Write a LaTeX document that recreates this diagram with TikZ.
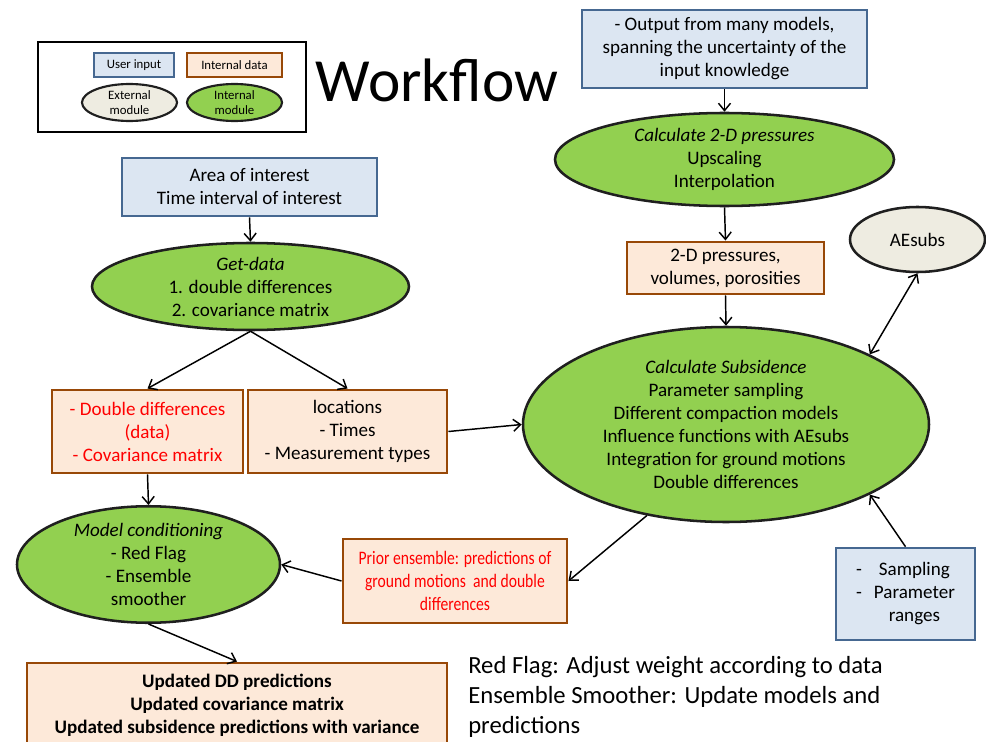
\documentclass[tikz,border=0pt]{standalone}
\usepackage{fontspec}
\setmainfont{Carlito}
\newfontfamily\condfont[FakeStretch=0.82]{Carlito}
\usetikzlibrary{shapes.geometric,arrows.meta}
\definecolor{ufill}{RGB}{220,230,242}
\definecolor{ubord}{RGB}{70,104,145}
\definecolor{dfill}{RGB}{253,233,217}
\definecolor{dbord}{RGB}{152,72,7}
\definecolor{igreen}{RGB}{146,208,80}
\definecolor{efill}{RGB}{238,236,225}
\definecolor{redtxt}{RGB}{255,0,0}
\def\pp{0.75pt}
\tikzset{
  main/.style={font=\fontsize{14.3}{17.25}\selectfont, align=center, inner sep=0pt},
  ubox/.style={main, rectangle, draw=ubord, fill=ufill, line width=2pt},
  dbox/.style={main, rectangle, draw=dbord, fill=dfill, line width=2.2pt},
  imod/.style={main, ellipse, draw=black!88, fill=igreen, line width=1.9pt},
  emod/.style={main, ellipse, draw=black!88, fill=efill, line width=1.9pt},
  small/.style={font=\fontsize{9.6}{11.25}\selectfont},
  arr/.style={-{Straight Barb[length=5.5pt,width=9pt]}, line width=1.1pt},
  darr/.style={{Straight Barb[length=5.5pt,width=9pt]}-{Straight Barb[length=5.5pt,width=9pt]}, line width=1.1pt},
  redt/.style={text=redtxt}
}
\begin{document}
\begin{tikzpicture}[x=0.75pt,y=-0.75pt]
\useasboundingbox (0,0) rectangle (986,742);

% legend
\node[draw=black, line width=2.2pt, minimum width=268*\pp, minimum height=90*\pp, inner sep=0pt] (legend) at (172,87) {};
\node[ubox, small, line width=1.6pt, minimum width=80*\pp, minimum height=24*\pp] (lu) at (134,65) {User input};
\node[dbox, small, line width=1.6pt, minimum width=95*\pp, minimum height=24*\pp] (ld) at (234.5,65) {Internal data};
\node[emod, small, line width=1.6pt, minimum width=95*\pp, minimum height=37*\pp] (le) at (129.5,102.5) {External\\module};
\node[imod, small, line width=1.6pt, minimum width=95*\pp, minimum height=37*\pp] (li) at (234.5,102.5) {Internal\\module};

% title
\node[anchor=base, inner sep=0pt, font=\fontsize{46}{52}\selectfont] (title) at (437,102) {Workflow};

% right column
\node[ubox, minimum width=285*\pp, minimum height=78*\pp] (out) at (724.5,49)
  {- Output from many models,\\spanning the uncertainty of the\\input knowledge};
\node[imod, minimum width=339*\pp, minimum height=93*\pp] (p2d) at (724.5,159.5)
  {\itshape Calculate 2-D pressures\\Upscaling\\Interpolation};
\node[dbox, minimum width=197*\pp, minimum height=52*\pp] (pbox) at (725.5,268)
  {2-D pressures,\\volumes, porosities};
\node[imod, minimum width=406*\pp, minimum height=195*\pp] (big) at (726,424.5)
  {\itshape Calculate Subsidence\\Parameter sampling\\Different compaction models\\Influence functions with AEsubs\\Integration for ground motions\\Double differences};
\node[emod, minimum width=135*\pp, minimum height=65*\pp] (ae) at (917.5,239.5) {AEsubs};
\node[ubox, minimum width=139*\pp, minimum height=92*\pp] (samp) at (905.5,594)
  {\begin{tabular}{@{}l@{\hspace{9pt}}c@{}}-&Sampling\\-&Parameter\\&ranges\end{tabular}};

% left column
\node[ubox, minimum width=255*\pp, minimum height=58*\pp] (area) at (249.5,187)
  {Area of interest\\Time interval of interest};
\node[imod, minimum width=317*\pp, minimum height=87*\pp] (get) at (250.5,286.5)
  {\itshape Get-data\\1. double differences\\2. covariance matrix};
\node[dbox, redt, minimum width=191*\pp, minimum height=83*\pp] (dd) at (147.5,431.5)
  {- Double differences\\(data)\\- Covariance matrix};
\node[dbox, minimum width=199*\pp, minimum height=83*\pp] (loc) at (347.5,431.5)
  {locations\\- Times\\- Measurement types};
\node[imod, minimum width=263*\pp, minimum height=115*\pp] (model) at (148.5,564.5)
  {\itshape Model conditioning\\- Red Flag\\- Ensemble\\smoother};
\node[dbox, redt, minimum width=224*\pp, minimum height=84*\pp, font=\fontsize{14.3}{17.25}\condfont] (prior) at (455,581)
  {Prior ensemble: predictions of\\ground motions\ \ and double\\differences};
\node[dbox, minimum width=420*\pp, minimum height=84*\pp, font=\fontsize{14.3}{17.25}\selectfont\bfseries] (upd) at (237,705)
  {Updated DD predictions\\Updated covariance matrix\\Updated subsidence predictions with variance};

% note
\node[anchor=west, align=left, inner sep=0pt, font=\fontsize{18.5}{22.5}\selectfont] (note) at (468,697)
  {Red Flag: Adjust weight according to data\\Ensemble Smoother: Update models and\\predictions};

% connectors
\draw[arr] (out.south) -- (p2d.north);
\draw[arr] (p2d.south) -- (pbox.north);
\draw[arr] (pbox.south) -- (big.north);
\draw[darr] (ae.south) -- (big.26);
\draw[arr] (samp.north) -- (big.334);
\draw[arr] (area.south) -- (get.north);
\draw[arr] (get.south) -- (dd.north);
\draw[arr] (get.south) -- (loc.north);
\draw[arr] (loc.east) -- (big.west);
\draw[arr] (dd.south) -- (model.north);
\draw[arr] (prior.west) -- (model.east);
\draw[arr] (big.229) -- (prior.east);
\draw[arr] (model.south) -- (upd.north);
\end{tikzpicture}
\end{document}
